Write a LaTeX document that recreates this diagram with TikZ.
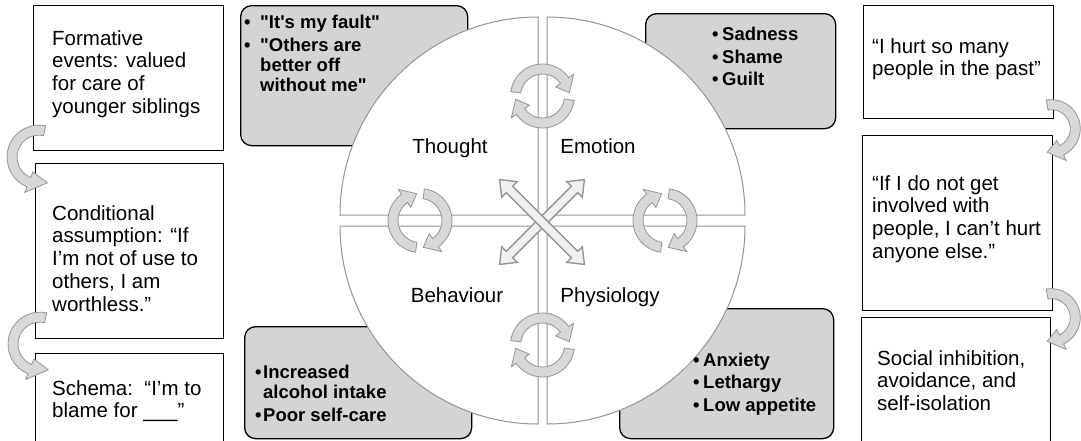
\documentclass[tikz,border=0pt]{standalone}
\usepackage{fontspec}
\setmainfont{Liberation Sans}[Ligatures=TeXOff]
\usetikzlibrary{calc}

\definecolor{boxgray}{RGB}{212,212,213}
\definecolor{linegray}{RGB}{148,148,150}
\definecolor{arrowfill}{RGB}{216,216,217}
\definecolor{crossfill}{RGB}{240,240,242}

\newlength\bw
\newcommand\itm[1]{\makebox[\bw][l]{•}#1}
\newcommand\cont[1]{\hspace*{\bw}#1}

% curved band arrow around the origin of the current scope
% #1 tail angle, #2 barb angle, #3 tip angle, #4 outer radius, #5 inner radius
\newcommand\bandarrow[5]{%
  \draw[bandarrow] (#1:#4) arc[start angle=#1, end angle=#2, radius=#4]
    -- (#2:#4+6) -- (#3:{(#4+#5)/2}) -- (#2:#5-6) -- (#2:#5)
    arc[start angle=#2, end angle=#1, radius=#5] -- cycle;}

% pair of circling arrows
\newcommand\cyclepair[2]{%
  \begin{scope}[shift={(#1)}, rotate=#2]
    \bandarrow{188}{325}{353}{32}{22}
    \bandarrow{8}{145}{173}{32}{22}
  \end{scope}}

\begin{document}
\begin{tikzpicture}[x=1pt, y=-1pt,
  wbox/.style={draw=black, line width=1.3pt, fill=white, inner sep=0pt, anchor=north west},
  gbox/.style={draw=black, line width=1.3pt, fill=boxgray, rounded corners=11pt, inner sep=0pt, anchor=north west},
  quad/.style={draw=linegray, line width=1pt, fill=white},
  bandarrow/.style={draw=linegray, line width=0.8pt, fill=arrowfill},
  cross/.style={draw=linegray, line width=1.4pt, fill=crossfill},
  txt/.style={anchor=north west, inner sep=0pt, align=left, font=\fontsize{20.5}{22.8}\selectfont},
  btxt/.style={anchor=north west, inner sep=0pt, align=left, font=\fontsize{18.5}{20}\selectfont\bfseries},
  lbl/.style={anchor=base, inner sep=0pt, font=\fontsize{20.5}{22.5}\selectfont}]
\useasboundingbox (0,0) rectangle (1081,440);
\clip (0,0) rectangle (1081,440);

% grey bullet boxes (behind the circle)
\node[gbox, minimum width=227pt, minimum height=140pt] (g1) at (240,5) {};
\node[gbox, minimum width=190pt, minimum height=115pt] (g2) at (645,13) {};
\node[gbox, minimum width=227pt, minimum height=112pt] (g3) at (244,326) {};
\node[gbox, minimum width=214pt, minimum height=130pt] (g4) at (619,308) {};

% white boxes
\node[wbox, minimum width=190pt, minimum height=145pt] (b1) at (33,5) {};
\node[wbox, minimum width=188pt, minimum height=175pt] (b2) at (35,163) {};
\node[wbox, minimum width=188pt, minimum height=95pt] (b3) at (35,353) {};
\node[wbox, minimum width=190pt, minimum height=113pt] (r1) at (863,5) {};
\node[wbox, minimum width=190pt, minimum height=175pt] (r2) at (862,135) {};
\node[wbox, minimum width=189pt, minimum height=130pt] (r3) at (861,317) {};

% four quadrants
\coordinate (qtl) at (538,215);
\coordinate (qtr) at (547,215);
\coordinate (qbr) at (547,226);
\coordinate (qbl) at (538,226);
\draw[quad] (qtl) -- ++(-198,0) arc[start angle=180, end angle=270, radius=198] -- cycle;
\draw[quad] (qtr) -- ++(0,-198) arc[start angle=270, end angle=360, radius=198] -- cycle;
\draw[quad] (qbr) -- ++(198,0) arc[start angle=0, end angle=90, radius=198] -- cycle;
\draw[quad] (qbl) -- ++(0,198) arc[start angle=90, end angle=180, radius=198] -- cycle;

% circling arrows between neighbouring quadrants
\coordinate (ctop) at (542.5,96);
\coordinate (cbot) at (542.5,345);
\coordinate (cleft) at (420,220.5);
\coordinate (cright) at (665,220.5);
\cyclepair{ctop}{0}
\cyclepair{cbot}{0}
\cyclepair{cleft}{90}
\cyclepair{cright}{90}

% diagonal double arrows
\coordinate (X) at (542,222);
\foreach \ang in {45,-45}{
  \begin{scope}[shift={(X)}, rotate=\ang]
    \draw[cross] (-60,0) -- (-46,11) -- (-46,4.5) -- (46,4.5) -- (46,11) -- (60,0)
      -- (46,-11) -- (46,-4.5) -- (-46,-4.5) -- (-46,-11) -- cycle;
  \end{scope}}

% connectors between the side boxes
\begin{scope}[shift={($(b1.south west)!0.5!(b2.north west)+(5,0)$)}]
  \bandarrow{282}{112}{72}{32}{22}
\end{scope}
\begin{scope}[shift={($(b2.south west)!0.5!(b3.north west)+(5,-2)$)}]
  \bandarrow{282}{112}{72}{32}{22}
\end{scope}
\begin{scope}[shift={($(r1.south east)!0.5!(r2.north east)+(-2.5,1.5)$)}]
  \bandarrow{260}{425}{460}{29}{19}
\end{scope}
\begin{scope}[shift={($(r2.south east)!0.5!(r3.north east)+(-1,3.5)$)}]
  \bandarrow{260}{425}{460}{29}{19}
\end{scope}

% quadrant labels
\node[lbl] (lthought) at (450,153) {Thought};
\node[lbl] (lemotion) at (598,153) {Emotion};
\node[lbl] (lbehav) at (457,302) {Behaviour};
\node[lbl] (lphys) at (610,302) {Physiology};

% side box texts
\node[txt] (t1) at (52,30) {Formative\\events: valued\\for care of\\younger siblings};
\node[txt] (t2) at (52,205) {Conditional\\assumption: “If\\I’m not of use to\\others, I am\\worthless.”};
\node[txt] (t3) at (52,380) {Schema:\ \ “I’m to\\blame for \_\_\_”};
\node[txt] (t4) at (872,38) {“I hurt so many\\people in the past”};
\node[txt] (t5) at (872,175) {“If I do not get\\involved with\\people, I can’t hurt\\anyone else.”};
\node[txt] (t6) at (877,350) {Social inhibition,\\avoidance, and\\self-isolation};

% bullet texts
\setlength\bw{16pt}
\node[btxt] (s1) at (244,15) {\itm{"It's my fault"}\\[2.5pt]\itm{"Others are}\\\cont{better off}\\\cont{without me"}};
\setlength\bw{10pt}
\node[btxt] (s2) at (712,27) {\itm{Sadness}\\[2.5pt]\itm{Shame}\\[2.5pt]\itm{Guilt}};
\setlength\bw{8pt}
\node[btxt] (s3) at (255,365) {\itm{Increased}\\\cont{alcohol intake}\\[2.5pt]\itm{Poor self-care}};
\setlength\bw{10pt}
\node[btxt] (s4) at (693,352.5) {\itm{Anxiety}\\[2.5pt]\itm{Lethargy}\\[2.5pt]\itm{Low appetite}};
\end{tikzpicture}
\end{document}
